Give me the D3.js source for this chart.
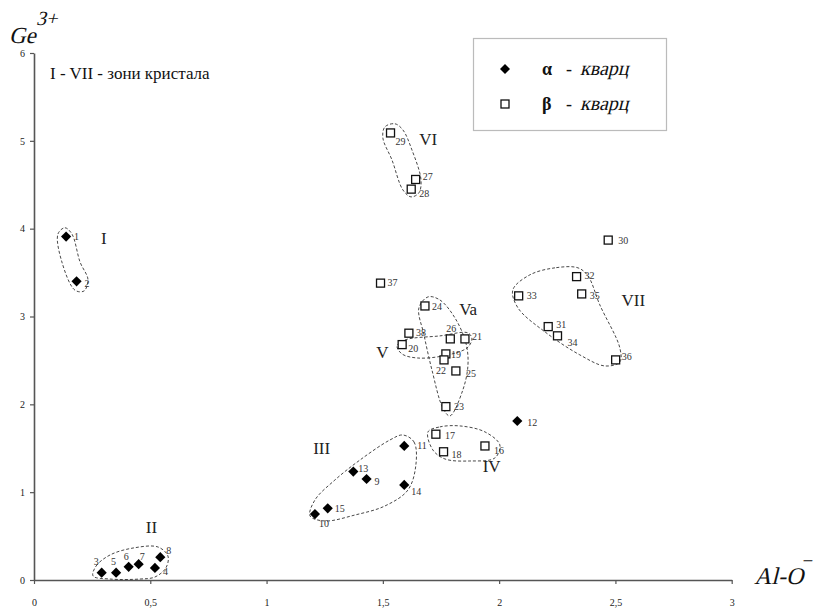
<!DOCTYPE html>
<html><head><meta charset="utf-8">
<script src="https://cdn.jsdelivr.net/npm/d3@7"></script>
<style>
body{margin:0;background:#fff;}
svg text{font-family:"Liberation Serif","Times New Roman",serif;font-style:normal;}
</style></head>
<body><svg id="c" width="819" height="609"></svg>
<script>
// ---------- DATA ----------
const xTicks = [0, 0.5, 1, 1.5, 2, 2.5, 3];
const yTicks = [0, 1, 2, 3, 4, 5, 6];

// alpha-quartz (filled diamonds)
const alphaIds = [1, 2, 3, 5, 6, 7, 4, 8, 11, 13, 9, 14, 15, 10, 12];
const alphaX   = [0.138, 0.183, 0.291, 0.353, 0.407, 0.450, 0.520, 0.543, 1.592, 1.373, 1.430, 1.592, 1.263, 1.208, 2.078];
const alphaY   = [3.91, 3.40, 0.083, 0.083, 0.15, 0.18, 0.137, 0.26, 1.526, 1.234, 1.15, 1.082, 0.816, 0.75, 1.81];

// beta-quartz (open squares)
const betaIds = [17, 18, 16, 29, 27, 28, 37, 24, 38, 20, 26, 21, 19, 22, 25, 23, 30, 32, 35, 33, 31, 34, 36];
const betaX   = [1.728, 1.761, 1.939, 1.533, 1.641, 1.622, 1.490, 1.681, 1.612, 1.583, 1.790, 1.853, 1.771, 1.763, 1.814, 1.771, 2.469, 2.333, 2.355, 2.084, 2.211, 2.251, 2.501];
const betaY   = [1.66, 1.46, 1.526, 5.09, 4.56, 4.45, 3.38, 3.12, 2.81, 2.68, 2.745, 2.745, 2.574, 2.506, 2.38, 1.974, 3.87, 3.454, 3.257, 3.235, 2.885, 2.78, 2.506];

// zone names and their label anchor (data units)
const zoneNames = ["I", "II", "III", "IV", "V", "Va", "VI", "VII"];
const zoneLabelX = [0.30, 0.505, 1.237, 1.968, 1.498, 1.867, 1.695, 2.577];
const zoneLabelY = [3.83, 0.53, 1.43, 1.23, 2.53, 3.02, 4.95, 3.12];

// zone outlines (data units)
const zoneOutlines = [
  [[0.103,3.94],[0.133,4.01],[0.163,3.94],[0.198,3.62],[0.232,3.42],[0.215,3.29],[0.176,3.30],[0.120,3.62]],
  [[0.254,0.046],[0.267,0.159],[0.327,0.285],[0.426,0.364],[0.533,0.376],[0.576,0.273],[0.567,0.137],[0.520,0.034],[0.456,0.011],[0.327,0.011]],
  [[1.586,1.651],[1.634,1.572],[1.642,1.310],[1.608,1.025],[1.509,0.843],[1.380,0.740],[1.251,0.672],[1.187,0.729],[1.208,0.911],[1.294,1.139],[1.402,1.367],[1.531,1.595]],
  [[1.694,1.686],[1.745,1.743],[1.832,1.754],[1.939,1.686],[2.003,1.538],[1.982,1.390],[1.874,1.355],[1.767,1.378],[1.715,1.481]],
  [[1.561,2.665],[1.595,2.733],[1.745,2.779],[1.866,2.813],[1.883,2.745],[1.862,2.642],[1.758,2.551],[1.647,2.528],[1.582,2.574]],
  [[1.694,3.223],[1.745,3.189],[1.810,2.984],[1.857,2.699],[1.866,2.449],[1.844,2.164],[1.788,1.868],[1.758,1.959],[1.711,2.392],[1.677,2.790],[1.655,3.098]],
  [[1.509,5.159],[1.552,5.194],[1.586,5.125],[1.625,4.897],[1.664,4.556],[1.655,4.408],[1.621,4.362],[1.586,4.442],[1.539,4.784],[1.500,5.034]],
  [[2.339,3.554],[2.240,3.554],[2.132,3.474],[2.059,3.303],[2.081,3.098],[2.197,2.825],[2.347,2.563],[2.455,2.437],[2.519,2.483],[2.519,2.642],[2.433,3.132],[2.382,3.462]]
];

// ---------- LAYOUT ----------
const M = {left: 34, right: 731.7, top: 53, bottom: 580};
// point-label offsets in px (default [6,4])
const labelOffset = {
  1:[8,3], 2:[8,6], 3:[-8,-8], 5:[-5,-8], 6:[-5,-7], 7:[1,-4], 8:[6,-3], 4:[8,7],
  9:[8,6], 10:[4,13], 11:[13,3], 13:[5,0], 14:[7,10], 15:[7,4], 17:[9,5], 18:[8,6],
  16:[9,8], 12:[10,5], 29:[5,12], 27:[7,1], 28:[8,8], 37:[7,3], 24:[7,4], 38:[7,3],
  20:[6,7], 26:[-4,-7], 21:[7,1], 19:[5,4], 22:[-8,14], 25:[10,6], 23:[8,3],
  30:[10,4], 32:[8,2], 35:[8,5], 33:[8,3], 31:[8,1], 34:[10,10], 36:[6,0]
};

const svg = d3.select("#c");
const x = d3.scaleLinear().domain([0, 3]).range([M.left, M.right]);
const y = d3.scaleLinear().domain([0, 6]).range([M.bottom, M.top]);
const fmt = d => String(d).replace(".", ",");
const axisColor = "#555";

// slanted (italic-looking) serif text
function slanted(tx, ty, size, str) {
  return svg.append("text").attr("transform", `translate(${tx},${ty}) skewX(-14)`)
    .attr("font-size", size).attr("fill", "#111").text(str);
}

// axes
const gx = svg.append("g").attr("transform", `translate(0,${M.bottom})`)
  .call(d3.axisBottom(x).tickValues(xTicks).tickFormat(fmt).tickSize(4).tickSizeOuter(0));
const gy = svg.append("g").attr("transform", `translate(${M.left},0)`)
  .call(d3.axisLeft(y).tickValues(yTicks).tickFormat(fmt).tickSize(4).tickSizeOuter(0));
[gx, gy].forEach(g => {
  g.attr("font-family", null);
  g.select(".domain").attr("stroke", axisColor).attr("stroke-width", 1.6);
  g.selectAll(".tick line").attr("stroke", axisColor).attr("stroke-width", 1.2);
  g.selectAll(".tick text").attr("font-size", 10).attr("fill", "#222");
});
gx.selectAll(".tick text").attr("dy", "1.9em");
gy.selectAll(".tick text").attr("x", -9).attr("dy", "0.32em");

// zone outlines
const outline = d3.line().x(d => x(d[0])).y(d => y(d[1])).curve(d3.curveCatmullRomClosed.alpha(0.5));
svg.append("g").selectAll("path").data(zoneOutlines).join("path")
  .attr("d", outline).attr("fill", "none").attr("stroke", "#333")
  .attr("stroke-width", 0.9).attr("stroke-dasharray", "3,2");

// zone labels
svg.append("g").selectAll("text").data(zoneNames).join("text")
  .attr("x", (d, i) => x(zoneLabelX[i])).attr("y", (d, i) => y(zoneLabelY[i]))
  .attr("text-anchor", "middle").attr("font-size", 17).attr("fill", "#222").text(d => d);

// points
const alpha = alphaIds.map((id, i) => ({id, x: alphaX[i], y: alphaY[i]}));
const beta = betaIds.map((id, i) => ({id, x: betaX[i], y: betaY[i]}));

svg.append("g").selectAll("path").data(alpha).join("path")
  .attr("d", d3.symbol().type(d3.symbolSquare).size(52))
  .attr("transform", d => `translate(${x(d.x)},${y(d.y)}) rotate(45)`)
  .attr("fill", "#000");

svg.append("g").selectAll("rect").data(beta).join("rect")
  .attr("x", d => x(d.x) - 4).attr("y", d => y(d.y) - 4).attr("width", 8).attr("height", 8)
  .attr("fill", "#fff").attr("stroke", "#111").attr("stroke-width", 1.3);

// point labels
svg.append("g").selectAll("text").data(alpha.concat(beta)).join("text")
  .attr("x", d => x(d.x) + (labelOffset[d.id] || [6,4])[0])
  .attr("y", d => y(d.y) + (labelOffset[d.id] || [6,4])[1])
  .attr("font-size", 10).attr("fill", "#333").text(d => d.id);

// title note
svg.append("text").attr("x", 50).attr("y", 79).attr("font-size", 17).attr("fill", "#111")
  .text("I - VII - зони кристала");

// axis titles
slanted(9, 43, 23, "Ge");
slanted(36, 25, 20, "3+");
slanted(754, 584, 24, "Al-O");
slanted(801, 567, 19, "−");

// legend
const lg = svg.append("g");
lg.append("rect").attr("x", 473.5).attr("y", 38.5).attr("width", 193).attr("height", 92)
  .attr("fill", "#fff").attr("stroke", "#bbb").attr("stroke-width", 1.2);
lg.append("path").attr("d", d3.symbol().type(d3.symbolSquare).size(50)())
  .attr("transform", "translate(505,69) rotate(45)").attr("fill", "#000");
lg.append("rect").attr("x", 501).attr("y", 100).attr("width", 8).attr("height", 8)
  .attr("fill", "#fff").attr("stroke", "#111").attr("stroke-width", 1.3);
lg.append("text").attr("x", 542).attr("y", 75).attr("font-size", 18).attr("font-weight", "bold").attr("fill", "#111").text("α");
lg.append("text").attr("x", 542).attr("y", 110).attr("font-size", 18).attr("font-weight", "bold").attr("fill", "#111").text("β");
lg.append("text").attr("x", 566).attr("y", 75).attr("font-size", 18).attr("fill", "#111").text("-");
lg.append("text").attr("x", 566).attr("y", 110).attr("font-size", 18).attr("fill", "#111").text("-");
slanted(580, 75, 20, "кварц");
slanted(580, 110, 20, "кварц");
</script></body></html>
